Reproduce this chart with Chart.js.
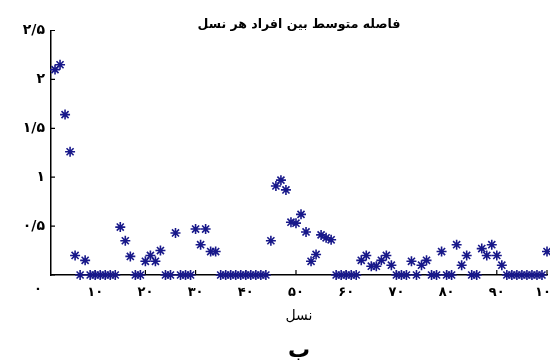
<!DOCTYPE html>
<html>
<head>
<meta charset="utf-8">
<script src="https://cdn.jsdelivr.net/npm/chart.js@4"></script>
<style>
  html, body { margin: 0; padding: 0; background: #fff; overflow: hidden; }
  #wrap { position: absolute; left: 0; top: 0; width: 570px; height: 362px; }
</style>
</head>
<body>
<div id="wrap"><canvas id="chart-1" width="570" height="362"></canvas></div>
<script>
// generation number (x) and mean distance between individuals (y)
const generations = [
  2, 3, 4, 5, 6, 7, 8, 9, 10, 11, 12, 13, 14, 15, 16, 17, 18, 19, 20,
  21, 22, 23, 24, 25, 26, 27, 28, 29, 30, 31, 32, 33, 34, 35, 36, 37, 38, 39, 40,
  41, 42, 43, 44, 45, 46, 47, 48, 49, 50, 51, 52, 53, 54, 55, 56, 57, 58, 59, 60,
  61, 62, 63, 64, 65, 66, 67, 68, 69, 70, 71, 72, 73, 74, 75, 76, 77, 78, 79, 80,
  81, 82, 83, 84, 85, 86, 87, 88, 89, 90, 91, 92, 93, 94, 95, 96, 97, 98, 99, 100
];
const meanDistance = [
  2.10, 2.15, 1.64, 1.26, 0.20, 0, 0.15, 0, 0, 0, 0, 0, 0, 0.49, 0.35, 0.19, 0, 0, 0.14,
  0.20, 0.14, 0.25, 0, 0, 0.43, 0, 0, 0, 0.47, 0.31, 0.47, 0.24, 0.24, 0, 0, 0, 0, 0, 0,
  0, 0, 0, 0, 0.35, 0.91, 0.97, 0.87, 0.54, 0.53, 0.62, 0.44, 0.14, 0.21, 0.41, 0.38, 0.36, 0, 0, 0,
  0, 0, 0.15, 0.20, 0.09, 0.09, 0.15, 0.20, 0.10, 0, 0, 0, 0.14, 0, 0.10, 0.15, 0, 0, 0.24, 0,
  0, 0.31, 0.10, 0.20, 0, 0, 0.27, 0.20, 0.31, 0.20, 0.10, 0, 0, 0, 0, 0, 0, 0, 0, 0.24
];

const xTicks = [10, 20, 30, 40, 50, 60, 70, 80, 90, 100];
const xTickLabels = ['۱۰', '۲۰', '۳۰', '۴۰', '۵۰', '۶۰', '۷۰', '۸۰', '۹۰', '۱۰۰'];
const yTicks = [0, 0.5, 1, 1.5, 2, 2.5];
const yTickLabels = ['', '۰/۵', '۱', '۱/۵', '۲', '۲/۵'];
const originLabel = '۰';

const chartTitle = 'فاصله متوسط بین افراد هر نسل';
const xTitle = 'نسل';
const panelLabel = 'ب';

const fam = 'DejaVu Sans';
const navy = '#18188a';

// small inward tick marks like the matlab axes, plus the lone origin label
const innerTicks = {
  id: 'innerTicks',
  beforeDatasetsDraw(chart) {
    const {ctx, chartArea, scales} = chart;
    ctx.save();
    ctx.strokeStyle = '#000';
    ctx.lineWidth = 1.2;
    ctx.beginPath();
    yTicks.forEach(v => {
      const py = scales.y.getPixelForValue(v);
      ctx.moveTo(chartArea.left, py);
      ctx.lineTo(chartArea.left + 4, py);
    });
    xTicks.forEach(v => {
      const px = scales.x.getPixelForValue(v);
      ctx.moveTo(px, chartArea.bottom);
      ctx.lineTo(px, chartArea.bottom - 5);
    });
    ctx.stroke();
    ctx.fillStyle = '#000';
    ctx.font = 'bold 13px "' + fam + '"';
    ctx.textAlign = 'center';
    ctx.textBaseline = 'middle';
    ctx.fillText(originLabel, 38, chartArea.bottom + 15);
    ctx.restore();
  }
};

const data = {
  datasets: [{
    data: generations.map((g, i) => ({x: g, y: meanDistance[i]})),
    showLine: false,
    pointStyle: 'star',
    pointRadius: 5,
    pointBorderWidth: 1.6,
    borderColor: navy,
    backgroundColor: navy,
    clip: false
  }]
};

const config = {
  type: 'scatter',
  data: data,
  options: {
    responsive: false,
    animation: false,
    layout: { padding: { left: 16, right: 23, top: 0, bottom: 0 } },
    plugins: {
      legend: { display: false },
      tooltip: { enabled: false },
      title: {
        display: true,
        fullSize: false,
        text: chartTitle,
        color: '#000',
        font: { family: fam, size: 12.5, weight: 'bold', lineHeight: 1 },
        padding: { top: 18, bottom: 0 }
      },
      subtitle: {
        display: true,
        fullSize: false,
        position: 'bottom',
        text: panelLabel,
        color: '#000',
        font: { family: fam, size: 22, weight: 'bold', lineHeight: 1 },
        padding: { top: 15, bottom: 0 }
      }
    },
    scales: {
      x: {
        type: 'linear',
        min: 1.2,
        max: 100,
        afterBuildTicks: s => { s.ticks = xTicks.map(v => ({value: v})); },
        afterFit: s => { s.height = 50; },
        grid: { display: false, drawTicks: false },
        border: { display: true, color: '#000', width: 1.5 },
        ticks: {
          autoSkip: false,
          maxRotation: 0,
          padding: 10,
          color: '#000',
          font: { family: fam, size: 13, weight: 'bold' },
          callback: v => xTickLabels[xTicks.indexOf(v)]
        },
        title: {
          display: true,
          text: xTitle,
          color: '#000',
          font: { family: fam, size: 14 },
          padding: { top: 4, bottom: 0 }
        }
      },
      y: {
        min: 0,
        max: 2.5,
        afterBuildTicks: s => { s.ticks = yTicks.map(v => ({value: v})); },
        afterFit: s => { s.width = 35; },
        grid: { display: false, drawTicks: false },
        border: { display: true, color: '#000', width: 1.5 },
        ticks: {
          padding: 6,
          color: '#000',
          font: { family: fam, size: 14, weight: 'bold' },
          callback: v => yTickLabels[yTicks.indexOf(v)]
        }
      }
    }
  },
  plugins: [innerTicks]
};

const ctx = document.getElementById('chart-1').getContext('2d');
new Chart(ctx, config);
</script>
</body>
</html>
